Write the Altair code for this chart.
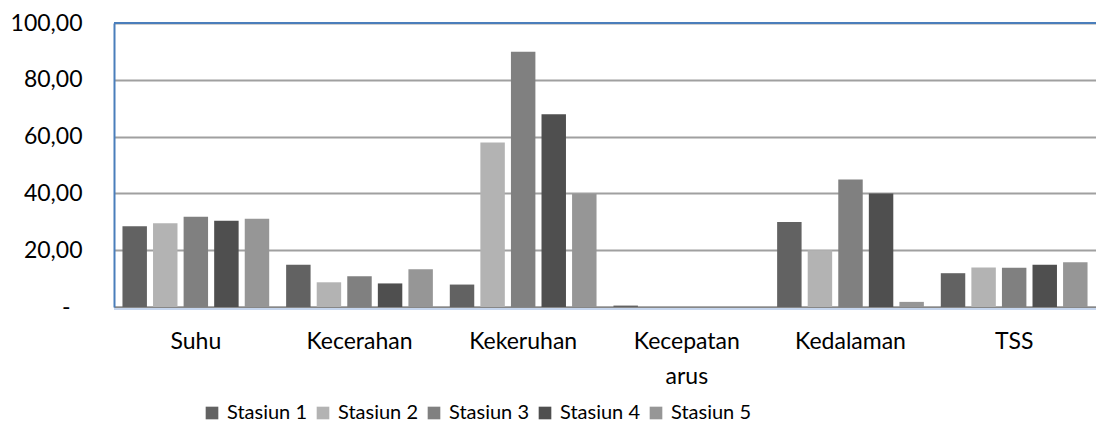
import altair as alt
import pandas as pd

# Water-quality parameters per sampling station
categories = ["Suhu", "Kecerahan", "Kekeruhan", "Kecepatan arus", "Kedalaman", "TSS"]
stations = ["Stasiun 1", "Stasiun 2", "Stasiun 3", "Stasiun 4", "Stasiun 5"]

stasiun_1 = [28.4, 14.9, 7.9, 0.5, 29.9, 11.9]
stasiun_2 = [29.5, 8.7, 57.9, 0.0, 20.0, 13.9]
stasiun_3 = [31.8, 10.8, 89.9, 0.0, 44.9, 13.8]
stasiun_4 = [30.4, 8.3, 67.9, 0.0, 40.0, 14.9]
stasiun_5 = [31.1, 13.3, 39.9, 0.0, 1.8, 15.8]

station_colors = ["#626262", "#b3b3b3", "#808080", "#4f4f4f", "#969696"]
y_ticks = [0, 20, 40, 60, 80, 100]

series = [stasiun_1, stasiun_2, stasiun_3, stasiun_4, stasiun_5]
rows = []
for name, vals in zip(stations, series):
    for cat, v in zip(categories, vals):
        rows.append({"Parameter": cat, "Stasiun": name, "Nilai": v})
df = pd.DataFrame(rows)

W, H = 982, 284
FONT = "Lato"

bars = alt.Chart(df).mark_bar().encode(
    x=alt.X(
        "Parameter:N",
        sort=categories,
        scale=alt.Scale(paddingInner=0, paddingOuter=0),
        axis=alt.Axis(
            title=None,
            labelAngle=0,
            ticks=False,
            grid=False,
            domainColor="#878787",
            domainWidth=2,
            labelFont=FONT,
            labelFontSize=23,
            labelColor="#000000",
            labelPadding=23,
            labelLineHeight=35,
            labelExpr="datum.label == 'Kecepatan arus' ? ['Kecepatan', 'arus'] : datum.label",
        ),
    ),
    xOffset=alt.XOffset(
        "Stasiun:N",
        sort=stations,
        scale=alt.Scale(paddingInner=0.2, paddingOuter=0.277),
    ),
    y=alt.Y(
        "Nilai:Q",
        scale=alt.Scale(domain=[0, 100], nice=False),
        axis=alt.Axis(
            title=None,
            values=y_ticks,
            ticks=False,
            domainColor="#4a7ebb",
            domainWidth=2,
            gridColor="#a0a0a0",
            gridWidth=2,
            labelFont=FONT,
            labelFontSize=23,
            labelColor="#000000",
            labelPadding={"condition": {"test": "datum.value == 0", "value": 44}, "value": 32},
            labelExpr="datum.value == 0 ? '-' : replace(format(datum.value, '.2f'), '.', ',')",
        ),
    ),
    color=alt.Color(
        "Stasiun:N",
        sort=stations,
        scale=alt.Scale(domain=stations, range=station_colors),
        legend=alt.Legend(
            title=None,
            orient="none",
            direction="horizontal",
            columns=5,
            legendX=88,
            legendY=380,
            symbolType="square",
            symbolSize=160,
            symbolStrokeWidth=0,
            labelFont=FONT,
            labelFontSize=20,
            labelColor="#000000",
            labelOffset=5,
            columnPadding=6,
        ),
    ),
)

# Blue frame along the top of the plot area
top_border = alt.Chart(df).mark_rule(color="#4a7ebb", strokeWidth=2).encode(
    x=alt.value(0), x2=alt.value(W), y=alt.value(0)
)

# Faint blue edge under the category axis
bottom_edge = alt.Chart(df).mark_rule(color="#c6d6ee", strokeWidth=1).encode(
    x=alt.value(0), x2=alt.value(W), y=alt.value(H + 2)
)

chart = (
    alt.layer(bars, top_border, bottom_edge)
    .properties(
        width=W,
        height=H,
        autosize=alt.AutoSizeParams(type="none"),
        padding={"left": 114, "top": 23, "right": 0, "bottom": 133},
        background="#ffffff",
    )
    .configure_view(stroke=None)
    .configure_legend(labelFont=FONT, labelFontSize=20, labelLimit=300)
)

chart.save("out.html", embed_options={"renderer": "svg", "actions": False})
